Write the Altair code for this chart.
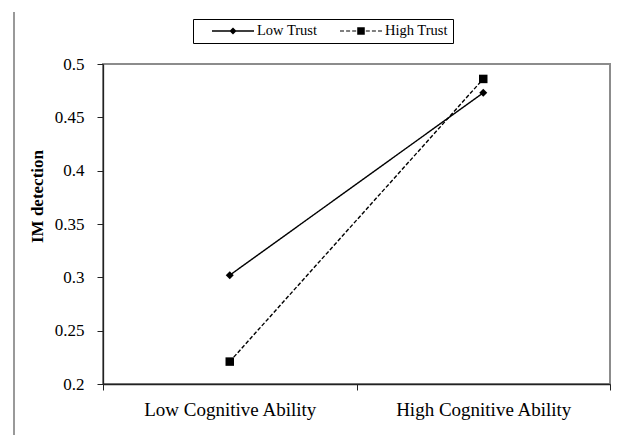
import altair as alt
import pandas as pd

categories = ["Low Cognitive Ability", "High Cognitive Ability"]
series = ["Low Trust", "High Trust"]
low_trust = [0.302, 0.473]
high_trust = [0.221, 0.486]
y_ticks = [0.2, 0.25, 0.3, 0.35, 0.4, 0.45, 0.5]

rows = []
for s, vals in zip(series, [low_trust, high_trust]):
    for c, v in zip(categories, vals):
        rows.append({"Ability": c, "Trust": s, "Value": v})
df = pd.DataFrame(rows)

FONT = "Liberation Serif"

x_enc = alt.X(
    "Ability:N",
    sort=categories,
    scale=alt.Scale(type="band", domain=categories, paddingInner=0, paddingOuter=0),
    axis=alt.Axis(
        title=None, labelAngle=0, tickBand="extent", tickSize=6, labelPadding=10,
        labelFont=FONT, labelFontSize=19, labelColor="black",
        domainColor="#222", tickColor="#222", domainWidth=1.3, grid=False,
    ),
)
y_enc = alt.Y(
    "Value:Q",
    scale=alt.Scale(domain=[0.2, 0.5], nice=False, zero=False),
    axis=alt.Axis(
        values=y_ticks, format=".2~f", title="IM detection", titleFont=FONT,
        titleFontSize=17, titleFontWeight="bold", titleColor="black",
        titleAngle=-90, titleX=-66, titleY=132, titleAlign="center",
        titleBaseline="middle", grid=False, tickSize=6, labelPadding=13,
        labelFont=FONT, labelFontSize=17, labelColor="black",
        domainColor="#222", tickColor="#222", domainWidth=1.3,
    ),
)

lines = alt.Chart(df).mark_line(color="black", strokeWidth=1.4).encode(
    x=x_enc,
    y=y_enc,
    detail="Trust:N",
    strokeDash=alt.StrokeDash(
        "Trust:N", scale=alt.Scale(domain=series, range=[[1, 0], [4, 2]]), legend=None
    ),
)

points = alt.Chart(df).mark_point(filled=True, color="black", opacity=1).encode(
    x=x_enc,
    y=y_enc,
    shape=alt.Shape(
        "Trust:N", scale=alt.Scale(domain=series, range=["diamond", "square"]), legend=None
    ),
    size=alt.Size("Trust:N", scale=alt.Scale(domain=series, range=[64, 72]), legend=None),
)

# legend glyphs: line + marker drawn as filled shapes
path_low = "M-1,-0.032H1V0.032H-1Z M-0.17,0L0,-0.17L0.17,0L0,0.17Z"
path_high = (
    "M-1,-0.026H-0.81V0.026H-1Z"
    "M-0.71,-0.026H-0.52V0.026H-0.71Z"
    "M-0.42,-0.026H-0.23V0.026H-0.42Z"
    "M-0.18,-0.18H0.18V0.18H-0.18Z"
    "M0.23,-0.026H0.42V0.026H0.23Z"
    "M0.52,-0.026H0.71V0.026H0.52Z"
    "M0.81,-0.026H1V0.026H0.81Z"
)

legend_def = alt.Legend(
    title=None, orient="none", legendX=90, legendY=-45,
    direction="horizontal", strokeColor="black", fillColor="white",
    padding=5, symbolSize=1764, symbolStrokeWidth=0, symbolOffset=14,
    labelOffset=3, columnPadding=8, labelFont=FONT, labelFontSize=14.5,
    labelColor="black", clipHeight=14,
)

legend_layer = alt.Chart(df).transform_filter("datum.Value < 0").mark_point(
    filled=True, color="black", opacity=1
).encode(
    x=x_enc,
    y=y_enc,
    shape=alt.Shape(
        "Trust:N",
        scale=alt.Scale(domain=series, range=[path_low, path_high]),
        legend=legend_def,
    ),
)

border = alt.Chart(pd.DataFrame({"k": [0]})).mark_rule(color="#999999", strokeWidth=2).encode(
    x=alt.value(-89), y=alt.value(-52), y2=alt.value(380)
)

chart = (
    alt.layer(border, lines, points, legend_layer)
    .resolve_scale(shape="independent")
    .properties(
        width=507,
        height=320,
        autosize="none",
        padding={"left": 95, "top": 56, "right": 21, "bottom": 51},
        background="white",
    )
    .configure_view(stroke="#8c8c8c", strokeWidth=2)
)

chart.save("out.html", embed_options={"renderer": "svg", "actions": False})
